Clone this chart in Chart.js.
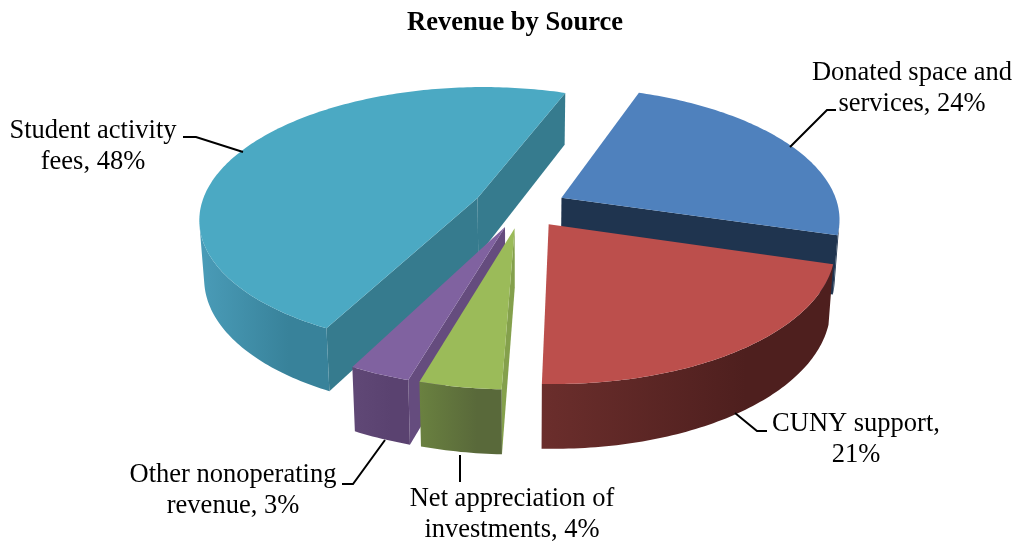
<!DOCTYPE html>
<html>
<head>
<meta charset="utf-8">
<style>
  html, body { margin: 0; padding: 0; background: #fff; }
  canvas { display: block; }
</style>
<script src="https://cdn.jsdelivr.net/npm/chart.js@4"></script>
</head>
<body>
<canvas id="revenueChart" width="1017" height="541"></canvas>
<script>
// Revenue by source, clockwise from the top right slice
const categories = ['Donated space and services', 'CUNY support', 'Net appreciation of investments', 'Other nonoperating revenue', 'Student activity fees']
const shares = [24, 21, 4, 3, 48]

const labelLines = [
  ['Donated space and', 'services, 24%'],
  ['CUNY support,', '21%'],
  ['Net appreciation of', 'investments, 4%'],
  ['Other nonoperating', 'revenue, 3%'],
  ['Student activity', 'fees, 48%'],
]

const topColors = ['#4f81bd', '#bc4f4c', '#9bbb59', '#8062a0', '#4ba9c3']
const cutColors = ['#1f344f', '#4e1f1e', '#84a04c', '#654c7e', '#367b8e']
const wallLight = ['#1f344f', '#6b2e2c', '#6a8140', '#604876', '#4a9cb8']
const wallDark = ['#1f344f', '#4e1f1e', '#59693a', '#5a4270', '#38829a']
const explode = [36.5, 36.5, 36.5, 36.5, 40]

const labelPos = [
  [912, 80], [856, 431], [512, 506], [233, 482], [93, 138],
]
const leaders = [
  [[790, 147], [827, 110], [836, 110]],
  [[735, 413], [757, 431], [767, 431]],
  [[460, 455], [460, 482]],
  [[385, 440], [353, 484], [342, 484]],
  [[243, 152], [196, 137], [183, 137]],
]

// pie plane -> screen
const CX = 522, CY = 207, RX = 277, RY = 130, PERSP = 0.15
const DEPTH = 58, DEPTH_V = 6, SHRINK = 0.985

function project(u, v, bottom) {
  const w = 1 / (1 - PERSP * v)
  let x = CX + RX * u * w
  let y = CY + RY * v * w
  if (bottom) {
    x = CX + (x - CX) * SHRINK
    y += DEPTH + DEPTH_V * v
  }
  return [x, y]
}

function quadArea(q) {
  let s = 0
  for (let i = 0; i < 4; i++) {
    const p = q[i], n = q[(i + 1) % 4]
    s += p[0] * n[1] - n[0] * p[1]
  }
  return s
}

function fillPoly(ctx, pts, color) {
  ctx.beginPath()
  pts.forEach((p, i) => (i ? ctx.lineTo(p[0], p[1]) : ctx.moveTo(p[0], p[1])))
  ctx.closePath()
  ctx.fillStyle = color
  ctx.fill()
}

function drawSlice(ctx, arc, i) {
  const mid = (arc.startAngle + arc.endAngle) / 2
  const e = arc.options.offset / arc.outerRadius
  const ou = e * Math.cos(mid), ov = e * Math.sin(mid)
  const steps = Math.ceil((arc.endAngle - arc.startAngle) * 60)
  const rim = []
  for (let s = 0; s <= steps; s++) {
    const a = arc.startAngle + ((arc.endAngle - arc.startAngle) * s) / steps
    rim.push([ou + Math.cos(a), ov + Math.sin(a)])
  }
  const top = (p) => project(p[0], p[1], false)
  const bot = (p) => project(p[0], p[1], true)
  const quad = (p, q) => [top(p), top(q), bot(q), bot(p)]
  const apex = [ou, ov]

  // cut faces first, outer wall over them
  ;[[apex, rim[0]], [rim[steps], apex]].forEach(([p, q]) => {
    const f = quad(p, q)
    if (quadArea(f) < 0) fillPoly(ctx, f, cutColors[i])
  })

  // outer wall: the run of rim steps that faces the viewer
  const seen = []
  for (let s = 0; s < steps; s++) {
    if (quadArea(quad(rim[s], rim[s + 1])) < 0) seen.push(s)
  }
  if (seen.length) {
    const run = seen.map((s) => rim[s]).concat([rim[seen[seen.length - 1] + 1]])
    const xs = run.map((p) => top(p)[0])
    const grad = ctx.createLinearGradient(Math.min(...xs), 0, Math.max(...xs), 0)
    grad.addColorStop(0, wallLight[i])
    grad.addColorStop(0.7, wallDark[i])
    grad.addColorStop(1, wallDark[i])
    fillPoly(ctx, run.map(top).concat(run.slice().reverse().map(bot)), grad)
  }
  fillPoly(ctx, [apex, ...rim].map(top), topColors[i])
}

const pie3d = {
  id: 'pie3d',
  beforeDatasetDraw(chart, args) {
    const ctx = chart.ctx
    const arcs = args.meta.data
    const order = arcs.map((a, i) => i).sort((a, b) => {
      const ma = (arcs[a].startAngle + arcs[a].endAngle) / 2
      const mb = (arcs[b].startAngle + arcs[b].endAngle) / 2
      return Math.sin(ma) - Math.sin(mb)
    })
    ctx.save()
    order.forEach((i) => drawSlice(ctx, arcs[i], i))
    ctx.restore()
    return false
  },
  afterDraw(chart) {
    const ctx = chart.ctx
    ctx.save()
    ctx.strokeStyle = '#000'
    ctx.lineWidth = 2
    leaders.forEach((line) => {
      ctx.beginPath()
      line.forEach((p, i) => (i ? ctx.lineTo(p[0], p[1]) : ctx.moveTo(p[0], p[1])))
      ctx.stroke()
    })
    ctx.fillStyle = '#000'
    ctx.font = '26.5px "Liberation Serif"'
    ctx.textAlign = 'center'
    labelLines.forEach((lines, i) => {
      lines.forEach((text, l) => ctx.fillText(text, labelPos[i][0], labelPos[i][1] + l * 31))
    })
    ctx.restore()
  },
}

new Chart(document.getElementById('revenueChart'), {
  type: 'pie',
  data: {
    labels: categories,
    datasets: [
      {
        data: shares,
        backgroundColor: topColors,
        borderWidth: 0,
        offset: explode,
      },
    ],
  },
  options: {
    responsive: false,
    animation: false,
    rotation: 20,
    layout: { padding: { left: 13 } },
    plugins: {
      legend: { display: false },
      tooltip: { enabled: false },
      title: {
        display: true,
        text: 'Revenue by Source',
        color: '#000',
        font: { family: '"Liberation Serif"', size: 26.5, weight: 'bold' },
        padding: { top: 7, bottom: 10 },
      },
    },
  },
  plugins: [pie3d],
})
</script>
</body>
</html>
